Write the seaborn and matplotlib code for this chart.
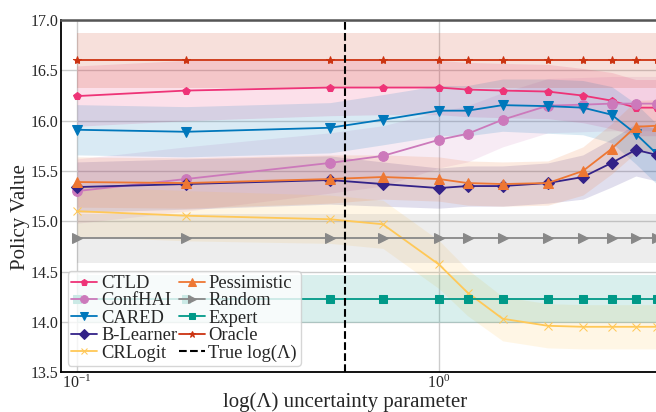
import matplotlib
matplotlib.use("Agg")
import matplotlib.pyplot as plt
import numpy as np
import pandas as pd
import seaborn as sns

# uncertainty parameter values (log axis)
lam = [0.1, 0.2, 0.5, 0.7, 1.0, 1.2, 1.5, 2.0, 2.5, 3.0, 3.5, 4.0]
true_lam = 0.55

ctld = [16.245, 16.30, 16.33, 16.33, 16.33, 16.31, 16.30, 16.29, 16.25, 16.20, 16.13, 16.13]
confhai = [15.30, 15.42, 15.58, 15.65, 15.81, 15.87, 16.01, 16.15, 16.16, 16.17, 16.17, 16.17]
cared = [15.91, 15.89, 15.93, 16.01, 16.10, 16.10, 16.155, 16.145, 16.13, 16.06, 15.87, 15.67]
blearner = [15.34, 15.37, 15.41, 15.37, 15.33, 15.35, 15.35, 15.38, 15.44, 15.58, 15.71, 15.66]
crlogit = [15.10, 15.055, 15.02, 14.97, 14.57, 14.29, 14.03, 13.96, 13.95, 13.95, 13.95, 13.95]
pessimistic = [15.39, 15.38, 15.42, 15.44, 15.42, 15.38, 15.37, 15.38, 15.50, 15.72, 15.94, 15.95]
random_ = [14.83] * 12
expert = [14.23] * 12
oracle = [16.60] * 12

# half width of the shaded bands
ctld_sd = [0.30, 0.30, 0.28, 0.27, 0.27, 0.27, 0.27, 0.27, 0.27, 0.28, 0.28, 0.28]
confhai_sd = [0.32, 0.32, 0.30, 0.30, 0.28, 0.28, 0.27, 0.27, 0.27, 0.27, 0.27, 0.27]
cared_sd = [0.25, 0.25, 0.25, 0.25, 0.25, 0.25, 0.26, 0.27, 0.27, 0.28, 0.30, 0.30]
blearner_sd = [0.25, 0.25, 0.24, 0.22, 0.20, 0.20, 0.20, 0.20, 0.22, 0.24, 0.26, 0.26]
crlogit_sd = [0.25, 0.25, 0.24, 0.24, 0.24, 0.23, 0.22, 0.22, 0.22, 0.22, 0.22, 0.22]
pessimistic_sd = [0.25, 0.25, 0.24, 0.22, 0.22, 0.22, 0.22, 0.22, 0.24, 0.25, 0.26, 0.26]
random_sd = [0.245] * 12
expert_sd = [0.24] * 12
oracle_sd = [0.27] * 12

series = [
    ("CTLD", ctld, ctld_sd, "#EE3377", "p", 6),
    ("ConfHAI", confhai, confhai_sd, "#CC79BB", "o", 7),
    ("CARED", cared, cared_sd, "#0077BB", "v", 7),
    ("B-Learner", blearner, blearner_sd, "#332288", "D", 6),
    ("CRLogit", crlogit, crlogit_sd, "#FFC857", "x", 6),
    ("Pessimistic", pessimistic, pessimistic_sd, "#EE7733", "^", 7),
    ("Random", random_, random_sd, "#888888", ">", 7),
    ("Expert", expert, expert_sd, "#009988", "s", 6),
    ("Oracle", oracle, oracle_sd, "#CC3311", "*", 6),
]

sns.set_style("white")
plt.rcParams["font.family"] = ["Liberation Serif", "DejaVu Serif"]
plt.rcParams["mathtext.fontset"] = "stix"

fig = plt.figure(figsize=(6.56, 4.12), dpi=100)
ax = fig.add_axes([0.093, 0.097, 0.907, 0.854])

for name, vals, sd, color, marker, ms in series:
    vals = np.array(vals)
    sd = np.array(sd)
    ax.fill_between(lam, vals - sd, vals + sd, color=color, alpha=0.15, linewidth=0)
    df = pd.DataFrame({"lam": lam, "value": vals})
    sns.lineplot(data=df, x="lam", y="value", ax=ax, color=color, marker=marker,
                 markersize=ms, markeredgecolor=color, linewidth=1.3, label=name)

ax.axvline(true_lam, color="black", linestyle="--", linewidth=1.5, label="True log(Λ)")

ax.set_xscale("log")
ax.set_xlim(0.0903, 3.98)
ax.set_ylim(13.5, 17.0)
ax.set_yticks([13.5, 14.0, 14.5, 15.0, 15.5, 16.0, 16.5, 17.0])
ax.set_yticklabels(["13.5", "14.0", "14.5", "15.0", "15.5", "16.0", "16.5", "17.0"])
ax.set_xticks([0.1, 1.0])
ax.minorticks_off()
ax.grid(True, color="#cccccc", linewidth=1.0)
ax.tick_params(axis="both", length=0, labelsize=11.5, pad=2)

for s in ["left", "bottom"]:
    ax.spines[s].set_color("black")
    ax.spines[s].set_linewidth(1.3)
ax.spines["top"].set_color("#555555")
ax.spines["top"].set_linewidth(1.8)
ax.spines["right"].set_visible(False)

ax.set_xlabel("log(Λ) uncertainty parameter", fontsize=15)
ax.set_ylabel("Policy Value", fontsize=15)
ax.xaxis.set_label_coords(0.477, -0.058)
ax.yaxis.set_label_coords(-0.052, 0.44)

leg = ax.legend(loc="lower left", bbox_to_anchor=(0.005, 0.008), ncol=2, fontsize=13.3,
                handlelength=1.4, handletextpad=0.2, columnspacing=0.1,
                labelspacing=0.02, borderpad=0.2, borderaxespad=0.2,
                framealpha=0.8, edgecolor="#cccccc", fancybox=True, markerscale=0.8)

fig.savefig("out.png", dpi=100)
